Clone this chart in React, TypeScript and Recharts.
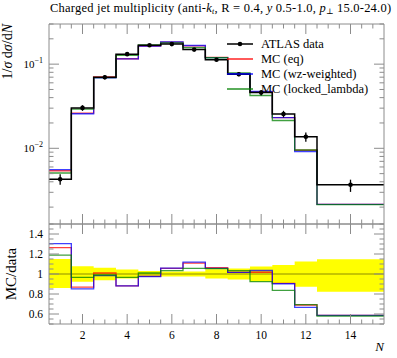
import React from 'react';
import { ComposedChart, Line, Scatter, ErrorBar, XAxis, YAxis, Area, ReferenceLine } from 'recharts';

// ---- data ----
const binEdges = [0.5, 1.5, 2.5, 3.5, 4.5, 5.5, 6.5, 7.5, 8.5, 9.5, 10.5, 11.5, 12.5, 15.5];
const binCenters = [1, 2, 3, 4, 5, 6, 7, 8, 9, 10, 11, 12, 14];
const dataValues = [0.00428, 0.0302, 0.07, 0.1315, 0.168, 0.173, 0.149, 0.113, 0.076, 0.0459, 0.0256, 0.01374, 0.00369];
const dataRelErrUp = [0.15, 0.077, 0.063, 0.045, 0.03, 0.025, 0.025, 0.047, 0.055, 0.075, 0.09, 0.125, 0.148];
const dataRelErrDown = [0.14, 0.077, 0.063, 0.045, 0.03, 0.025, 0.025, 0.044, 0.055, 0.075, 0.09, 0.128, 0.178];
const mcEq = [0.00541, 0.02624, 0.0707, 0.116, 0.164, 0.1829, 0.1651, 0.1202, 0.0773, 0.0467, 0.0232, 0.00948, 0.00216];
const mcWz = [0.00558, 0.02573, 0.0688, 0.1158, 0.1638, 0.1832, 0.1666, 0.1194, 0.0772, 0.0475, 0.0231, 0.00916, 0.00216];
const mcLocked = [0.00509, 0.02917, 0.0693, 0.127, 0.1697, 0.1789, 0.1575, 0.1191, 0.0786, 0.0424, 0.0214, 0.00954, 0.00214];

const xMajorTicks = [2, 4, 6, 8, 10, 12, 14];
const ratioMajorTicks = [0.6, 0.8, 1, 1.2, 1.4];
const mainDecades = [0.001, 0.01, 0.1];

const seriesNames = ['ATLAS data', 'MC (eq)', 'MC (wz-weighted)', 'MC (locked_lambda)'];

// ---- styling ----
const FONT = '"Liberation Serif", "DejaVu Serif", serif';
const AX = '#8c8c8c';
const C_DATA = '#000000';
const C_EQ = '#ff0000';
const C_WZ = '#0000ff';
const C_LOCK = '#008000';
const MAIN_DOMAIN: [number, number] = [0.00126, 0.3];
const RATIO_DOMAIN: [number, number] = [0.5, 1.5];
const X_DOMAIN: [number, number] = [0.5, 15.5];

// ---- derived tables ----
const last = dataValues.length - 1;
const histRows = binEdges.map((e, i) => {
  const j = Math.min(i, last);
  return {
    x: e,
    data: dataValues[j],
    eq: mcEq[j],
    wz: mcWz[j],
    locked: mcLocked[j],
    rEq: mcEq[j] / dataValues[j],
    rWz: mcWz[j] / dataValues[j],
    rLocked: mcLocked[j] / dataValues[j],
    band: [1 - dataRelErrDown[j], 1 + dataRelErrUp[j]],
  };
});
const pointRows = binCenters.map((c, i) => ({
  x: c,
  y: dataValues[i],
  err: [dataValues[i] * dataRelErrDown[i], dataValues[i] * dataRelErrUp[i]],
}));

const xTicks: number[] = [];
for (let k = 2; k <= 30; k++) xTicks.push(k / 2);
const isMajorX = (v: number) => xMajorTicks.some((t) => Math.abs(t - v) < 1e-6);

const mainYTicks: number[] = [];
mainDecades.forEach((d) => {
  for (let m = 1; m <= 9; m++) {
    const v = +(m * d).toPrecision(3);
    if (v >= MAIN_DOMAIN[0] && v <= MAIN_DOMAIN[1]) mainYTicks.push(v);
  }
});
const isMajorMain = (v: number) => mainDecades.some((d) => Math.abs(d - v) < 1e-9);

const ratioTicks: number[] = [];
for (let k = 10; k <= 30; k++) ratioTicks.push(+(k * 0.05).toFixed(2));
const isMajorRatio = (v: number) => ratioMajorTicks.some((t) => Math.abs(t - v) < 1e-6);

const MAJOR = 10;
const MINOR = 4.5;

// tick renderers (ticks point into the frame)
const xTick = (dir: number, labels: boolean) => (p: any) => {
  const v = p.payload.value;
  const major = isMajorX(v);
  return (
    <g>
      <line x1={p.x} x2={p.x} y1={p.y} y2={p.y + dir * (major ? MAJOR : MINOR)} stroke={AX} strokeWidth={1} />
      {labels && major ? (
        <text x={p.x} y={p.y + 15} textAnchor="middle" fontSize={11.5} fontFamily={FONT} fill="#000">
          {String(v)}
        </text>
      ) : null}
    </g>
  );
};

const mainYTick = (dir: number, labels: boolean) => (p: any) => {
  const v = p.payload.value;
  const major = isMajorMain(v);
  const exp = Math.round(Math.log10(v));
  return (
    <g>
      <line x1={p.x} x2={p.x + dir * (major ? MAJOR : MINOR)} y1={p.y} y2={p.y} stroke={AX} strokeWidth={1} />
      {labels && major ? (
        <text x={p.x - 6} y={p.y + 4} textAnchor="end" fontSize={11} fontFamily={FONT} fill="#000">
          10
          <tspan fontSize={8} dy={-5}>{'\u2212' + String(-exp)}</tspan>
        </text>
      ) : null}
    </g>
  );
};

const ratioYTick = (dir: number, labels: boolean) => (p: any) => {
  const v = p.payload.value;
  const major = isMajorRatio(v);
  return (
    <g>
      <line x1={p.x} x2={p.x + dir * (major ? MAJOR : MINOR)} y1={p.y} y2={p.y} stroke={AX} strokeWidth={1} />
      {labels && major ? (
        <text x={p.x - 6} y={p.y + 4} textAnchor="end" fontSize={11.5} fontFamily={FONT} fill="#000">
          {String(v)}
        </text>
      ) : null}
    </g>
  );
};

const lineCommon = { type: 'stepAfter' as const, dot: false, isAnimationActive: false, strokeOpacity: 0.75, strokeWidth: 1.3 };

export default function App() {
  return (
    <div style={{ position: 'absolute', left: 0, top: 0, width: 397, height: 358, background: '#fff', fontFamily: FONT }}>
      {/* main panel */}
      <div style={{ position: 'absolute', left: 0, top: 0 }}>
        <ComposedChart width={397} height={230} data={histRows} margin={{ top: 4, right: 0, bottom: 0, left: 0 }}>
          <XAxis dataKey="x" type="number" domain={X_DOMAIN} allowDataOverflow ticks={xTicks} interval={0}
            tickSize={0} tickMargin={0} height={6} tick={xTick(-1, false)} axisLine={{ stroke: AX }} />
          <XAxis xAxisId="top" orientation="top" dataKey="x" type="number" domain={X_DOMAIN} allowDataOverflow ticks={xTicks}
            interval={0} tickSize={0} tickMargin={0} height={20} tick={xTick(1, false)} axisLine={{ stroke: AX }} />
          <YAxis scale="log" type="number" domain={MAIN_DOMAIN} allowDataOverflow ticks={mainYTicks} interval={0}
            tickSize={0} tickMargin={0} width={49} tick={mainYTick(1, true)} axisLine={{ stroke: AX }} />
          <YAxis yAxisId="right" orientation="right" scale="log" type="number" domain={MAIN_DOMAIN} allowDataOverflow
            ticks={mainYTicks} interval={0} tickSize={0} tickMargin={0} width={13} tick={mainYTick(-1, false)}
            axisLine={{ stroke: AX }} />
          <Line dataKey="eq" stroke={C_EQ} {...lineCommon} />
          <Line dataKey="wz" stroke={C_WZ} {...lineCommon} />
          <Line dataKey="locked" stroke={C_LOCK} {...lineCommon} />
          <Line dataKey="data" stroke={C_DATA} type="stepAfter" dot={false} isAnimationActive={false} strokeWidth={1.5} />
          <Scatter data={pointRows} dataKey="y" isAnimationActive={false} fill={C_DATA}
            shape={(p: any) => <circle cx={p.cx} cy={p.cy} r={2.3} fill={C_DATA} />}>
            <ErrorBar dataKey="err" direction="y" width={0} stroke={C_DATA} strokeWidth={1.3} isAnimationActive={false} />
          </Scatter>
        </ComposedChart>
      </div>

      {/* ratio panel */}
      <div style={{ position: 'absolute', left: 0, top: 214 }}>
        <ComposedChart width={397} height={140} data={histRows} margin={{ top: 0, right: 0, bottom: 0, left: 0 }}>
          <XAxis dataKey="x" type="number" domain={X_DOMAIN} allowDataOverflow ticks={xTicks} interval={0}
            tickSize={0} tickMargin={0} height={30} tick={xTick(-1, true)} axisLine={{ stroke: AX }} />
          <XAxis xAxisId="top" orientation="top" dataKey="x" type="number" domain={X_DOMAIN} allowDataOverflow ticks={xTicks}
            interval={0} tickSize={0} tickMargin={0} height={10} tick={xTick(1, false)} axisLine={{ stroke: AX }} />
          <YAxis type="number" domain={RATIO_DOMAIN} allowDataOverflow ticks={ratioTicks} interval={0}
            tickSize={0} tickMargin={0} width={49} tick={ratioYTick(1, true)} axisLine={{ stroke: AX }} />
          <YAxis yAxisId="right" orientation="right" type="number" domain={RATIO_DOMAIN} allowDataOverflow
            ticks={ratioTicks} interval={0} tickSize={0} tickMargin={0} width={13} tick={ratioYTick(-1, false)}
            axisLine={{ stroke: AX }} />
          <Area dataKey="band" type="stepAfter" fill="#ffff00" fillOpacity={1} stroke="none" isAnimationActive={false} />
          <ReferenceLine y={1} stroke="#000" strokeOpacity={0.45} strokeWidth={1} />
          <Line dataKey="rEq" stroke={C_EQ} {...lineCommon} />
          <Line dataKey="rWz" stroke={C_WZ} {...lineCommon} />
          <Line dataKey="rLocked" stroke={C_LOCK} {...lineCommon} />
        </ComposedChart>
      </div>

      {/* texts and legend */}
      <svg width={397} height={358} style={{ position: 'absolute', left: 0, top: 0, pointerEvents: 'none' }} fontFamily={FONT}>
        <text x={50} y={12} fontSize={12.5} fill="#000" style={{ letterSpacing: '0.22px' }}>
          {'Charged jet multiplicity (anti-'}
          <tspan fontStyle="italic">k</tspan>
          <tspan fontStyle="italic" fontSize={8} dy={2}>t</tspan>
          <tspan dy={-2}>{', R = 0.4, '}</tspan>
          <tspan fontStyle="italic">y</tspan>
          <tspan>{' 0.5-1.0, '}</tspan>
          <tspan fontStyle="italic">p</tspan>
          <tspan fontSize={8} dy={2}>{'\u22A5'}</tspan>
          <tspan dy={-2}>{' 15.0-24.0)'}</tspan>
        </text>
        <text transform="translate(12,24) rotate(-90)" textAnchor="end" fontSize={14} fill="#000">
          {'1/'}
          <tspan fontStyle="italic">σ</tspan>
          {' d'}
          <tspan fontStyle="italic">σ</tspan>
          {'/d'}
          <tspan fontStyle="italic">N</tspan>
        </text>
        <text transform="translate(16,274) rotate(-90)" textAnchor="middle" fontSize={15} fill="#000">MC/data</text>
        <text x={384} y={351} textAnchor="end" fontSize={13} fontStyle="italic" fill="#000">N</text>

        {/* legend */}
        {[C_DATA, C_EQ, C_WZ, C_LOCK].map((c, i) => {
          const y = 44 + i * 15;
          return (
            <g key={i}>
              <line x1={227} x2={253} y1={y} y2={y} stroke={c} strokeWidth={i === 0 ? 1.5 : 1.3} />
              {i === 0 ? <circle cx={240} cy={y} r={2.3} fill={C_DATA} /> : null}
              <text x={261} y={y + 4} fontSize={12.5} fill="#000">{seriesNames[i]}</text>
            </g>
          );
        })}
      </svg>
    </div>
  );
}
